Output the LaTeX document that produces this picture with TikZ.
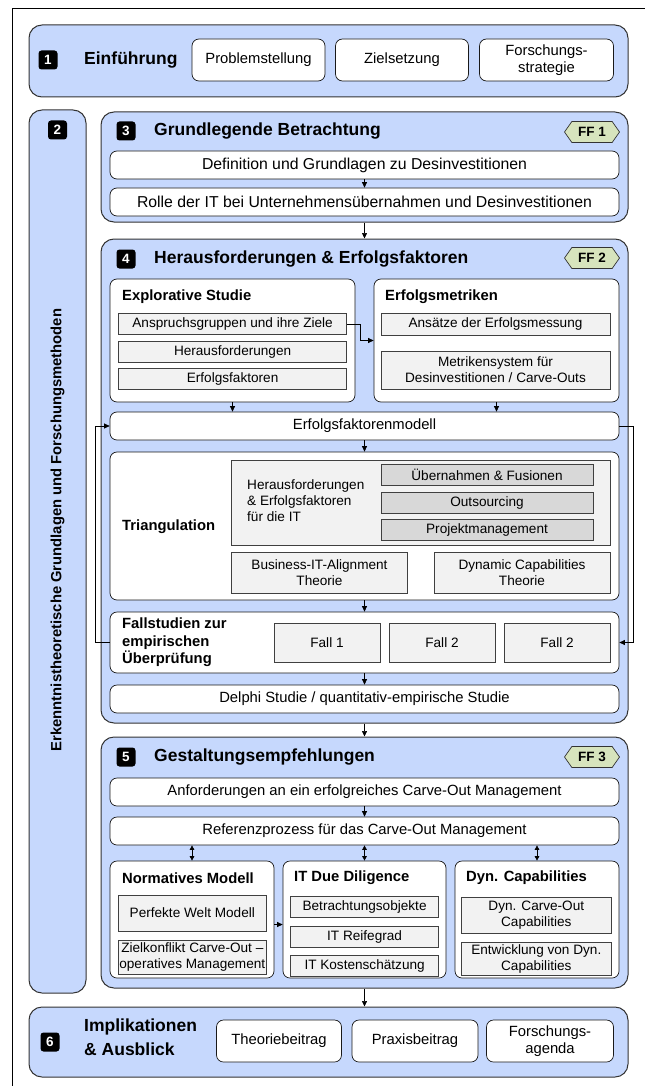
\documentclass[tikz,border=0pt]{standalone}
\usepackage{fontspec}
\setmainfont{Liberation Sans}
\usetikzlibrary{arrows.meta,shapes.symbols}
\definecolor{blau}{RGB}{198,216,253}
\definecolor{ffgruen}{RGB}{215,228,189}
\definecolor{hellgrau}{RGB}{242,242,242}
\definecolor{dunkelgrau}{RGB}{216,216,216}

\begin{document}
\begin{tikzpicture}[x=1pt,y=-1pt]
\tikzstyle{abschnitt} = [draw=black!80, fill=blau, rounded corners=13pt, line width=1pt, inner sep=0pt]
\tikzstyle{weiss} = [draw=black!90, fill=white, rounded corners=7pt, line width=0.7pt, inner sep=0pt, align=center, font=\fontsize{14.8}{17}\selectfont]
\tikzstyle{breit} = [weiss, minimum width=509pt, minimum height=28pt]
\tikzstyle{grau} = [draw=black!75, fill=hellgrau, line width=0.7pt, inner sep=0pt, align=center, font=\fontsize{13.6}{16}\selectfont]
\tikzstyle{dunkel} = [grau, fill=dunkelgrau]
\tikzstyle{nummer} = [fill=black, text=white, rounded corners=3pt, minimum width=19pt, minimum height=19pt, inner sep=0pt, font=\fontsize{13.5}{13.5}\selectfont\bfseries]
\tikzstyle{ff} = [draw=black!80, fill=ffgruen, line width=0.7pt, signal, signal to=east and west, signal pointer angle=110, minimum width=55pt, minimum height=21pt, inner sep=1pt, font=\fontsize{13.5}{13.5}\selectfont\bfseries]
\tikzstyle{titel} = [anchor=west, inner sep=0pt, align=left, font=\fontsize{17.5}{24}\selectfont\bfseries]
\tikzstyle{unter} = [anchor=west, inner sep=0pt, align=left, font=\fontsize{14.8}{17.5}\selectfont\bfseries]
\tikzstyle{pfeil} = [-{Triangle[length=5.5pt,width=5pt]}, line width=0.7pt]
\tikzstyle{doppelpfeil} = [{Triangle[length=4.5pt,width=4.5pt]}-{Triangle[length=4.5pt,width=4.5pt]}, line width=0.7pt]
\useasboundingbox (0,0) rectangle (645,1086);
\draw[line width=0.8pt] (12,1086) -- (12,8) -- (645,8);

% 1 Einfuehrung
\node[abschnitt, minimum width=599pt, minimum height=72pt] (s1) at (328.5,61) {};
\node[nummer] (n1) at (48,60) {1};
\node[titel] (t1) at (84,60) {Einführung};
\node[weiss, minimum width=133pt, minimum height=42pt] (problem) at (258.5,60) {Problemstellung};
\node[weiss, minimum width=133pt, minimum height=42pt] (ziel) at (402,60) {Zielsetzung};
\node[weiss, minimum width=134pt, minimum height=42pt] (strategie) at (546.5,60) {Forschungs-\\strategie};

% 2 Grundlagen
\node[abschnitt, minimum width=57pt, minimum height=883pt] (s2) at (57.5,551.5) {};
\node[nummer] (n2) at (57.5,130) {2};
\node[rotate=90, inner sep=0pt, font=\fontsize{14.8}{17}\selectfont\bfseries] (t2) at (57.5,530) {Erkenntnistheoretische Grundlagen und Forschungsmethoden};

% 3 Grundlegende Betrachtung
\node[abschnitt, minimum width=527pt, minimum height=110pt] (s3) at (364.5,167) {};
\node[nummer] (n3) at (126,131) {3};
\node[titel] (t3) at (154,131) {Grundlegende Betrachtung};
\node[ff] (ff1) at (592,132) {FF 1};
\node[breit, font=\fontsize{15.8}{18}\selectfont] (def) at (364.5,165) {Definition und Grundlagen zu Desinvestitionen};
\node[breit, font=\fontsize{15.8}{18}\selectfont] (rolle) at (364.5,202) {Rolle der IT bei Unternehmensübernahmen und Desinvestitionen};
\draw[pfeil] (def) -- (rolle);

% 4 Herausforderungen & Erfolgsfaktoren
\node[abschnitt, minimum width=527pt, minimum height=484pt] (s4) at (364.5,481) {};
\node[nummer] (n4) at (126,259) {4};
\node[titel] (t4) at (154,259) {Herausforderungen \& Erfolgsfaktoren};
\node[ff] (ff2) at (592,258) {FF 2};
\draw[pfeil] (s3) -- (s4);

\node[weiss, minimum width=245pt, minimum height=123pt] (explor) at (232.5,340.5) {};
\node[unter] (texplor) at (122,297) {Explorative Studie};
\node[grau, minimum width=228pt, minimum height=21pt] (anspruch) at (232.6,324) {Anspruchsgruppen und ihre Ziele};
\node[grau, minimum width=228pt, minimum height=21pt] (heraus) at (232.6,351.5) {Herausforderungen};
\node[grau, minimum width=228pt, minimum height=21pt] (efaktor) at (232.6,378.5) {Erfolgsfaktoren};

\node[weiss, minimum width=245pt, minimum height=123pt] (metrik) at (496.5,340.5) {};
\node[unter] (tmetrik) at (385,297) {Erfolgsmetriken};
\node[grau, minimum width=229pt, minimum height=22pt] (ansaetze) at (495.5,324) {Ansätze der Erfolgsmessung};
\node[grau, minimum width=229pt, minimum height=38pt] (system) at (495.5,370) {Metrikensystem für\\Desinvestitionen / Carve-Outs};
\draw[pfeil] (anspruch.east) -- ++(13,0) |- (metrik.west);

\node[breit] (modell) at (364.5,426) {Erfolgsfaktorenmodell};
\draw[pfeil] (explor.south) -- (explor.south |- modell.north);
\draw[pfeil] (metrik.south) -- (metrik.south |- modell.north);

\node[weiss, minimum width=509pt, minimum height=148pt] (trian) at (364.5,526) {};
\node[unter] (ttrian) at (122,527) {Triangulation};
\node[grau, minimum width=379pt, minimum height=85pt] (itbox) at (421,502.5) {};
\node[anchor=west, inner sep=0pt, align=left, font=\fontsize{13.6}{16}\selectfont] (ittext) at (247,501) {Herausforderungen\\\& Erfolgsfaktoren\\für die IT};
\node[dunkel, minimum width=212pt, minimum height=21pt] (fusion) at (487,475) {Übernahmen \& Fusionen};
\node[dunkel, minimum width=212pt, minimum height=21pt] (outsourcing) at (487,502.5) {Outsourcing};
\node[dunkel, minimum width=212pt, minimum height=21pt] (projekt) at (487,529.5) {Projektmanagement};
\node[grau, minimum width=176pt, minimum height=41pt] (bita) at (319.5,572.5) {Business-IT-Alignment\\Theorie};
\node[grau, minimum width=176pt, minimum height=41pt] (dyntheorie) at (522,572.5) {Dynamic Capabilities\\Theorie};
\draw[pfeil] (modell) -- (trian);

\node[weiss, minimum width=509pt, minimum height=61pt] (fall) at (364.5,642.5) {};
\node[unter] (tfall) at (122,642.5) {Fallstudien zur\\empirischen\\Überprüfung};
\node[grau, minimum width=106pt, minimum height=39pt] (fall1) at (327,642.5) {Fall 1};
\node[grau, minimum width=106pt, minimum height=39pt] (fall2) at (442,642.5) {Fall 2};
\node[grau, minimum width=106pt, minimum height=39pt] (fall3) at (557,642.5) {Fall 2};
\draw[pfeil] (trian) -- (fall);
\draw[pfeil] (fall.west) -- ++(-14.5,0) |- (modell.west);
\draw[pfeil] (modell.east) -- ++(14,0) |- (fall.east);

\node[breit] (delphi) at (364.5,699) {Delphi Studie / quantitativ-empirische Studie};
\draw[pfeil] (fall) -- (delphi);

% 5 Gestaltungsempfehlungen
\node[abschnitt, minimum width=527pt, minimum height=251pt] (s5) at (364.5,862.5) {};
\node[nummer] (n5) at (126,757) {5};
\node[titel] (t5) at (154,757) {Gestaltungsempfehlungen};
\node[ff] (ff3) at (592,757) {FF 3};
\draw[pfeil] (s4) -- (s5);

\node[breit] (anford) at (364.5,792) {Anforderungen an ein erfolgreiches Carve-Out Management};
\node[breit] (referenz) at (364.5,831) {Referenzprozess für das Carve-Out Management};
\draw[pfeil] (anford) -- (referenz);

\node[weiss, minimum width=164pt, minimum height=117pt] (norm) at (192,919.5) {};
\node[unter] (tnorm) at (122,878) {Normatives Modell};
\node[grau, minimum width=148.6pt, minimum height=36pt] (perfekt) at (192.3,913) {Perfekte Welt Modell};
\node[grau, minimum width=148.6pt, minimum height=34pt] (konflikt) at (192.3,957) {Zielkonflikt Carve-Out –\\operatives Management};

\node[weiss, minimum width=163pt, minimum height=117pt] (itdue) at (364.5,919.5) {};
\node[unter] (titdue) at (294,878) {IT Due Diligence};
\node[grau, minimum width=148pt, minimum height=21pt] (objekte) at (364.6,907) {Betrachtungsobjekte};
\node[grau, minimum width=148pt, minimum height=21pt] (reife) at (364.6,936.5) {IT Reifegrad};
\node[grau, minimum width=148pt, minimum height=21pt] (kosten) at (364.6,965.5) {IT Kostenschätzung};

\node[weiss, minimum width=164pt, minimum height=117pt] (dyncap) at (537,919.5) {};
\node[unter] (tdyncap) at (466,878) {Dyn. Capabilities};
\node[grau, minimum width=149.4pt, minimum height=36pt] (dyncarve) at (536.3,915) {Dyn. Carve-Out\\Capabilities};
\node[grau, minimum width=149.4pt, minimum height=33pt] (entwicklung) at (536.3,958.5) {Entwicklung von Dyn.\\Capabilities};

\draw[doppelpfeil] (norm.north) -- (norm.north |- referenz.south);
\draw[doppelpfeil] (itdue.north) -- (itdue.north |- referenz.south);
\draw[doppelpfeil] (dyncap.north) -- (dyncap.north |- referenz.south);
\draw[pfeil] ([yshift=-5pt]norm.east) -- ([yshift=-5pt]itdue.west);

% 6 Implikationen & Ausblick
\node[abschnitt, minimum width=599pt, minimum height=70pt] (s6) at (328.5,1042) {};
\node[nummer] (n6) at (50,1042) {6};
\node[titel] (t6) at (84,1037) {Implikationen\\\& Ausblick};
\node[weiss, minimum width=125pt, minimum height=42pt] (theorie) at (279,1041) {Theoriebeitrag};
\node[weiss, minimum width=126pt, minimum height=42pt] (praxis) at (415,1041) {Praxisbeitrag};
\node[weiss, minimum width=127pt, minimum height=42pt] (agenda) at (550,1041) {Forschungs-\\agenda};
\draw[pfeil] (s5.south) -- (s5.south |- s6.north);
\end{tikzpicture}
\end{document}
